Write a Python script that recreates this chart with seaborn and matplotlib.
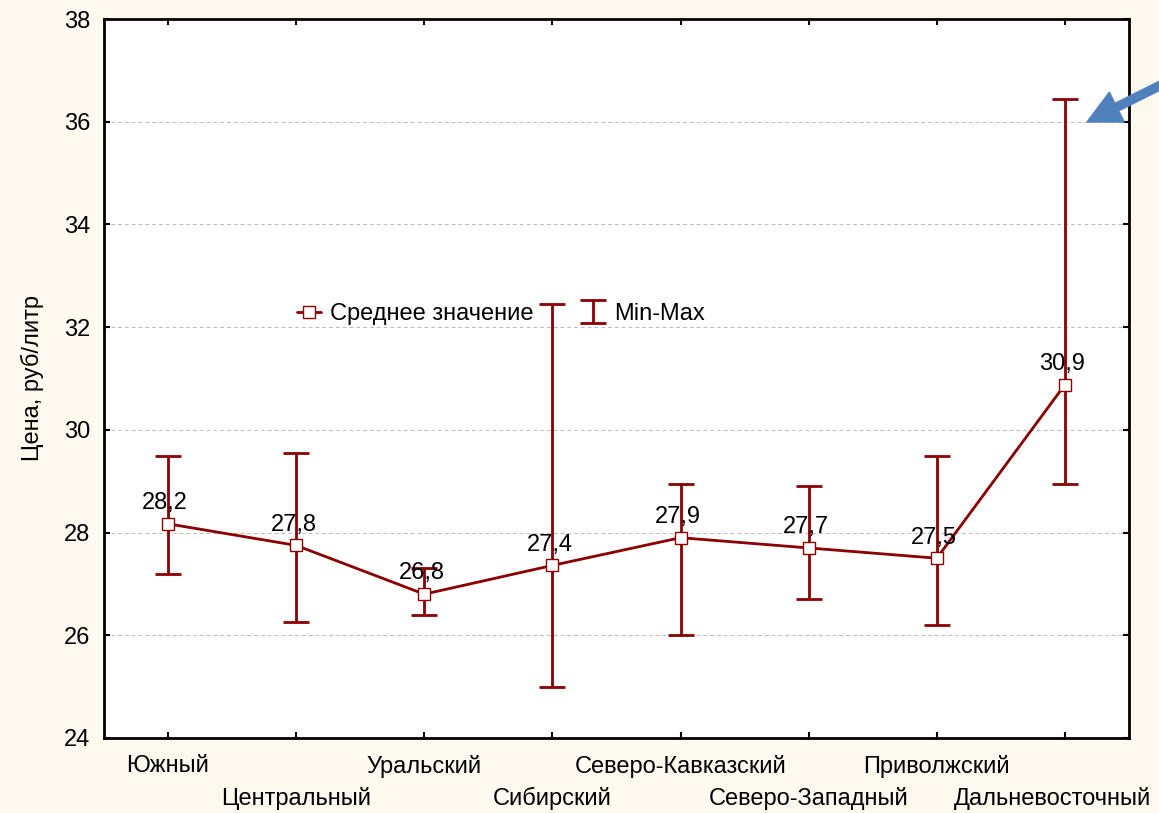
import numpy as np
import seaborn as sns
import matplotlib.pyplot as plt
import matplotlib.transforms as mtransforms
from matplotlib.lines import Line2D

# regions, mean price and min/max range (rub per litre)
regions = ['Южный', 'Центральный', 'Уральский', 'Сибирский',
           'Северо-Кавказский', 'Северо-Западный', 'Приволжский', 'Дальневосточный']
mean_price = [28.17, 27.75, 26.80, 27.36, 27.90, 27.70, 27.50, 30.88]
min_price = [27.2, 26.25, 26.4, 25.0, 26.0, 26.7, 26.2, 28.95]
max_price = [29.5, 29.55, 27.3, 32.45, 28.95, 28.9, 29.5, 36.45]
value_labels = ['28,2', '27,8', '26,8', '27,4', '27,9', '27,7', '27,5', '30,9']
y_ticks = [24, 26, 28, 30, 32, 34, 36, 38]

line_color = '#8B0000'

sns.set_style('white')
plt.rcParams['font.family'] = ['Liberation Sans', 'DejaVu Sans']
plt.rcParams['text.color'] = 'black'
plt.rcParams['xtick.color'] = 'black'
plt.rcParams['ytick.color'] = 'black'
plt.rcParams['axes.labelcolor'] = 'black'

fig = plt.figure(figsize=(11.59, 8.13), dpi=100, facecolor='#FEF9EE')
ax = fig.add_axes([0.0897, 0.0923, 0.8844, 0.8843])
ax.set_facecolor('white')

pos = np.arange(len(regions))
means = np.array(mean_price)
lo = means - np.array(min_price)
hi = np.array(max_price) - means

err = ax.errorbar(pos, means, yerr=[lo, hi], fmt='none', ecolor=line_color,
                  elinewidth=2, capsize=9.5, capthick=2, zorder=2, label='Min-Max')
sns.lineplot(x=pos, y=means, ax=ax, color=line_color, linewidth=2, marker='s',
             markersize=8, markerfacecolor='white', markeredgecolor=line_color,
             markeredgewidth=1.0, zorder=3, legend=False)

for x, y, t in zip(pos, means, value_labels):
    ax.annotate(t, xy=(x, y), xytext=(-2, 7), textcoords='offset points',
                ha='center', va='bottom', fontsize=17, color='black', zorder=4)

ax.set_xlim(-0.5, len(regions) - 0.5)
ax.set_ylim(24, 38)
ax.set_yticks(y_ticks)
# staggered category labels: even ones on the first row, odd ones below
ax.set_xticks(pos[::2], [regions[i] for i in pos[::2]])
ax.set_xticks(pos[1::2], [regions[i] for i in pos[1::2]], minor=True)
ax.tick_params(axis='both', which='both', labelsize=17)
ax.tick_params(direction='in', which='both', length=4, width=1.5, top=True, right=True,
               bottom=True, left=True)
ax.tick_params(axis='y', pad=10)
ax.tick_params(axis='x', which='major', pad=12.5)
ax.tick_params(axis='x', which='minor', pad=35.5)
ax.grid(axis='y', color='#BBBBBB', linestyle='--', linewidth=0.7, dashes=(4, 3))
for s in ax.spines.values():
    s.set_color('black')
    s.set_linewidth(2)

# last label sits a little left of its tick, as in the original
last = ax.get_xticklabels(minor=True)[-1]
last.set_transform(last.get_transform() +
                   mtransforms.ScaledTranslation(-12 / 100, 0, fig.dpi_scale_trans))

ax.set_ylabel('Цена, руб/литр', fontsize=17, labelpad=14)

mean_handle = Line2D([], [], color=line_color, linewidth=2, marker='s', markersize=8,
                     markerfacecolor='white', markeredgecolor=line_color)
ax.legend([mean_handle, err], ['Среднее значение', 'Min-Max'], ncol=2, frameon=False,
          loc='center left', bbox_to_anchor=(0.168, 0.59), fontsize=17,
          handlelength=1.0, handletextpad=0.4, columnspacing=2.0)

# blue pointer arrow at the Дальневосточный maximum
ax.annotate('', xy=(1087 / 1159, 1 - 122 / 813), xycoords='figure fraction',
            xytext=(1175 / 1159, 1 - 78 / 813), textcoords='figure fraction',
            arrowprops=dict(facecolor='#4F81BD', edgecolor='#4F81BD', width=6,
                            headwidth=24, headlength=24, shrink=0),
            annotation_clip=False, zorder=5)

fig.savefig('out.png', dpi=100, facecolor=fig.get_facecolor())
